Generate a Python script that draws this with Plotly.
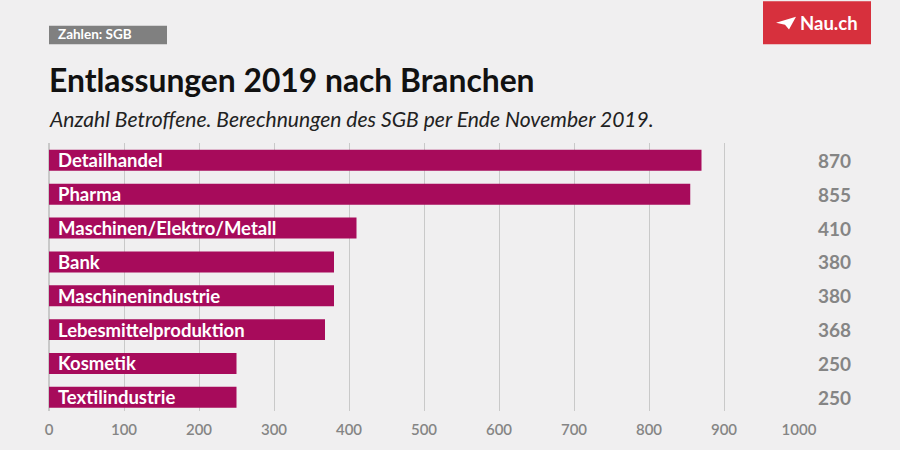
import plotly.graph_objects as go

categories = ["Detailhandel", "Pharma", "Maschinen/Elektro/Metall", "Bank",
              "Maschinenindustrie", "Lebesmittelproduktion", "Kosmetik", "Textilindustrie"]
values = [870, 855, 410, 380, 380, 368, 250, 250]
value_labels = ["870", "855", "410", "380", "380", "368", "250", "250"]
tick_vals = [0, 100, 200, 300, 400, 500, 600, 700, 800, 900, 1000]

BAR = "#a70b5b"
BG = "#f0eff0"
GRAY = "#858585"

T, B = 143, 33
PH = 450 - T - B

fig = go.Figure()
fig.add_trace(go.Bar(
    y=categories, x=values, orientation="h",
    marker=dict(color=BAR, line=dict(width=0)),
    width=0.62, hoverinfo="skip",
))

annotations = []
for c, v, lab in zip(categories, values, value_labels):
    annotations.append(dict(x=0, y=c, xref="x", yref="y", text=f"<b>{c}</b>",
                            showarrow=False, xanchor="left", xshift=7,
                            font=dict(family="Lato", size=18.5, color="white")))
    annotations.append(dict(x=1.047, y=c, xref="paper", yref="y", text=f"<b>{lab}</b>",
                            showarrow=False, xanchor="center",
                            font=dict(family="Lato", size=19, color=GRAY)))


def px_x(px):
    return (px - 49) / 750


def px_y(py):
    return (450 - B - py) / PH


annotations += [
    dict(x=px_x(56), y=px_y(32), xref="paper", yref="paper", text="<b>Zahlen: SGB</b>",
         showarrow=False, xanchor="left", yanchor="middle",
         font=dict(family="Lato", size=13.5, color="white")),
    dict(x=px_x(47), y=px_y(79), xref="paper", yref="paper",
         text="<b>Entlassungen 2019 nach Branchen</b>",
         showarrow=False, xanchor="left", yanchor="middle",
         font=dict(family="Lato", size=31.8, color="#111111")),
    dict(x=px_x(47), y=px_y(118), xref="paper", yref="paper",
         text="<i>Anzahl Betroffene. Berechnungen des SGB per Ende November 2019.</i>",
         showarrow=False, xanchor="left", yanchor="middle",
         font=dict(family="Lato", size=21.1, color="#222222")),
    dict(x=px_x(798), y=px_y(20), xref="paper", yref="paper",
         text="<b>Nau.ch</b>",
         showarrow=False, xanchor="left", yanchor="middle",
         font=dict(family="Lato", size=18.5, color="white", weight=900)),
]

shapes = [
    dict(type="rect", xref="paper", yref="paper", x0=px_x(49), x1=px_x(167),
         y0=px_y(42), y1=px_y(23), fillcolor="#808080", line=dict(width=0), layer="below"),
    dict(type="rect", xref="paper", yref="paper", x0=px_x(763), x1=px_x(871),
         y0=px_y(42), y1=px_y(-2), fillcolor="#d7303d", line=dict(width=0), layer="below"),
    dict(type="path", xref="paper", yref="paper",
         path=(f"M {px_x(776)},{px_y(20)} L {px_x(796)},{px_y(14)} "
               f"L {px_x(789)},{px_y(27)} L {px_x(785)},{px_y(22)} Z"),
         fillcolor="white", line=dict(width=0)),
]

fig.update_layout(
    width=900, height=450,
    margin=dict(l=49, r=101, t=T, b=B),
    paper_bgcolor=BG, plot_bgcolor=BG,
    showlegend=False,
    xaxis=dict(range=[0, 1000], tickvals=tick_vals, showgrid=True,
               gridcolor="#c9c9c9", gridwidth=1, zeroline=True, zerolinecolor="#c9c9c9",
               showline=False, ticks="", ticklabelstandoff=8,
               tickfont=dict(family="Lato", size=15, color=GRAY, weight=600), fixedrange=True),
    yaxis=dict(categoryorder="array", categoryarray=categories[::-1],
               showticklabels=False, showgrid=False, zeroline=False, ticks="",
               range=[-0.404, 7.513], fixedrange=True),
    annotations=annotations,
    shapes=shapes,
)

fig.write_html("out.html", config={"displayModeBar": False},
               post_script="document.body.style.margin='0';")
